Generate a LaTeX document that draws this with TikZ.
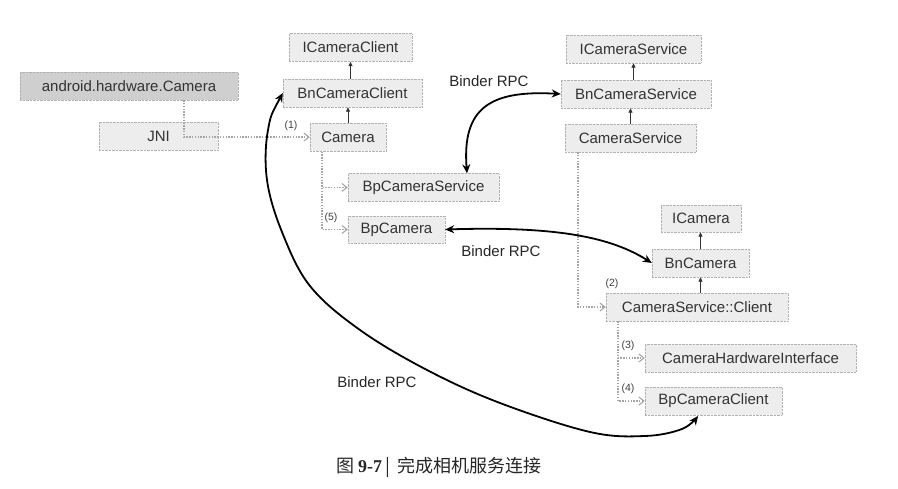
\documentclass[tikz,border=0pt]{standalone}
\usepackage{fontspec}
\setmainfont{Liberation Sans}
\newfontfamily\cjk{Noto Sans CJK SC}
\newfontfamily\capser{Liberation Serif}
\usetikzlibrary{arrows.meta,calc}
\begin{document}
\begin{tikzpicture}[x=1pt,y=-1pt,
  box/.style={draw=gray!60, densely dotted, fill=gray!14, inner sep=0pt,
    minimum height=28pt, font=\fontsize{15}{17}\selectfont, text=black!80},
  darkbox/.style={box, fill=gray!38},
  inh/.style={draw=black!80, line width=0.8pt, -{Triangle[length=4.5pt,width=4pt]}},
  dep/.style={draw=gray!70, dash pattern=on 1.4pt off 1.4pt, line width=1.4pt, -{Straight Barb[length=5pt,width=8pt,line width=1.1pt]}},
  rpc/.style={draw=black, line width=1.8pt, {Stealth[length=9pt,width=8pt]}-{Stealth[length=9pt,width=8pt]}},
  rpclabel/.style={font=\fontsize{15}{17}\selectfont, text=black!85},
  num/.style={font=\fontsize{10.5}{12}\selectfont, text=black!75, inner sep=0pt}]
\useasboundingbox (0,0) rectangle (898,489);
\fill[white] (0,0) rectangle (898,489);

% boxes
\node[box, minimum width=123pt] (icc)  at (350.5,47.5) {ICameraClient};
\node[box, minimum width=139pt] (bncc) at (352.5,93)   {BnCameraClient};
\node[darkbox, minimum width=218pt] (ahc) at (129,86)  {android.hardware.Camera};
\node[box, minimum width=119pt] (jni)  at (158.5,136)  {JNI};
\node[box, minimum width=76pt]  (cam)  at (348,137.5)  {Camera};
\node[box, minimum width=151pt] (bpcs) at (423.5,187.5){BpCameraService};
\node[box, minimum width=97pt, minimum height=27pt] (bpc) at (396.5,229.5) {BpCamera};
\node[box, minimum width=135pt] (ics)  at (633.5,49)   {ICameraService};
\node[box, minimum width=150pt] (bncs) at (636,94)     {BnCameraService};
\node[box, minimum width=131pt] (cs)   at (630.5,138)  {CameraService};
\node[box, minimum width=80pt, minimum height=27pt] (ic) at (701,218.5) {ICamera};
\node[box, minimum width=97pt]  (bnc)  at (700.5,263)  {BnCamera};
\node[box, minimum width=182pt] (csc)  at (697,307)    {CameraService::Client};
\node[box, minimum width=211pt] (chi)  at (750.5,358)  {CameraHardwareInterface};
\node[box, minimum width=137pt] (bpcc) at (713.5,401)  {BpCameraClient};

% inheritance arrows
\draw[inh] (icc.south |- bncc.north) -- (icc.south);
\draw[inh] (cam.north) -- (cam.north |- bncc.south);
\draw[inh] (ics.south |- bncs.north) -- (ics.south);
\draw[inh] (cs.north) -- (cs.north |- bncs.south);
\draw[inh] (bnc.north) -- (bnc.north |- ic.south);
\draw[inh] (bnc.south |- csc.north) -- (bnc.south);

% dotted dependencies
\coordinate (j1) at (184,137);
\draw[dep] (ahc.south -| j1) -- (j1) -- (cam.west |- j1);
\node[num] (n1) at (291,126) {(1)};

\coordinate (c1) at (322,152);
\draw[dep] (cam.south -| c1) |- (bpcs.west);
\draw[dep] (cam.south -| c1) |- (bpc.west);
\node[num] (n5) at (331,218) {(5)};

\coordinate (s1) at (578,152);
\draw[dep] (cs.south -| s1) |- (csc.west);
\node[num] (n2) at (612,284) {(2)};

\coordinate (k1) at (618,321);
\draw[dep] (csc.south -| k1) |- (chi.west);
\draw[dep] (csc.south -| k1) |- (bpcc.west);
\node[num] (n3) at (628,346) {(3)};
\node[num] (n4) at (628,389) {(4)};

% Binder RPC curves
\draw[rpc] (bncs.west) .. controls (490,90) and (462,108) .. (bpcs.north -| 467,0);
\draw[rpc] (bpc.east) .. controls (560,226) and (612,238) .. (bnc.west);
\coordinate (e1) at (698,416);
\draw[rpc] plot[smooth, tension=0.6] coordinates {(bncc.west) (268,130) (267,180) (282,232) (310,286) (360,330) (427,370) (500,403) (590,432) (645,436) (682,429) (e1)};

\node[rpclabel] (l1) at (489,81)  {Binder RPC};
\node[rpclabel] (l2) at (501,251) {Binder RPC};
\node[rpclabel] (l3) at (377,382) {Binder RPC};

% caption
\node[font=\fontsize{18}{20}\selectfont, text=black!85] (cap) at (439,467)
  {\cjk 图\ {\capser\bfseries 9-7}\,|\ \ 完成相机服务连接};
\end{tikzpicture}
\end{document}
